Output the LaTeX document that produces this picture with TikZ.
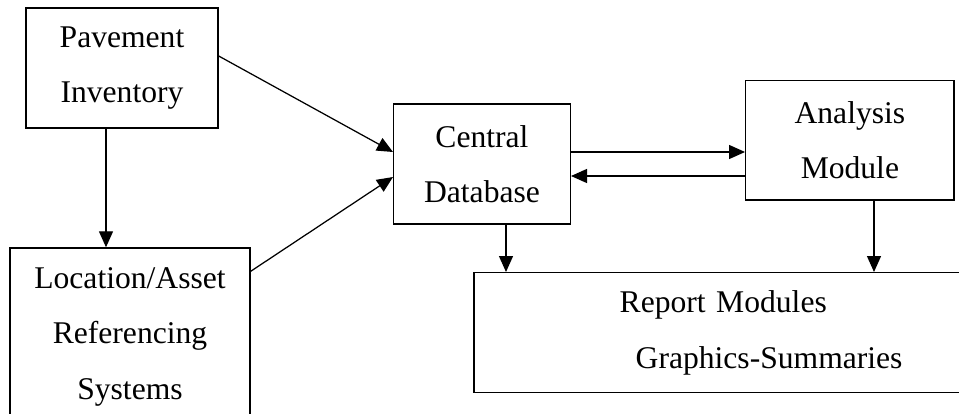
\documentclass[tikz,border=0pt]{standalone}
\usepackage{fontspec}
\setmainfont{Liberation Serif}
\usetikzlibrary{arrows.meta,calc}
\begin{document}
\begin{tikzpicture}[x=1pt,y=-1pt,
  box/.style={draw,line width=1.4pt,rectangle,inner sep=0pt,align=center,
    font=\fontsize{31.6}{55.5}\selectfont},
  arr/.style={line width=1.25pt,-{Triangle[length=16pt,width=14pt]}}]
\clip (0,0) rectangle (959,413);
\fill[white] (0,0) rectangle (959,413);
\node[box,minimum width=192pt,minimum height=120pt] (pav) at (122,68) {Pavement\\Inventory};
\node[box,minimum width=240pt,minimum height=177pt] (loc) at (130,336.5) {Location/Asset\\Referencing\\Systems};
\node[box,minimum width=176.6pt,minimum height=120pt] (cen) at (482,164) {Central\\Database};
\node[box,minimum width=208.3pt,minimum height=119.3pt] (ana) at (849.9,140.4) {Analysis\\Module};
\node[box,align=left,anchor=north west,inner xsep=145.7pt,text width=330pt,minimum height=120pt] (rep) at (473.3,272) {Report Modules\\\hspace*{16pt}Graphics-Summaries};
\coordinate (xa) at (106,0);
\coordinate (xb) at (506,0);
\coordinate (xc) at (874,0);
\draw[arr] (pav.south -| xa) -- (loc.north -| xa);
\draw[arr] ($(pav.east)+(0,-12)$) -- ($(cen.west)+(0,-12)$);
\draw[arr] ($(loc.north east)+(0,24)$) -- ($(cen.west)+(0,13)$);
\draw[arr] ($(cen.east)+(0,-12)$) -- ($(ana.west |- cen.east)+(0,-12)$);
\draw[arr] ($(ana.west |- cen.east)+(0,12)$) -- ($(cen.east)+(0,12)$);
\draw[arr] (cen.south -| xb) -- (rep.north -| xb);
\draw[arr] (ana.south -| xc) -- (rep.north -| xc);
\end{tikzpicture}
\end{document}
